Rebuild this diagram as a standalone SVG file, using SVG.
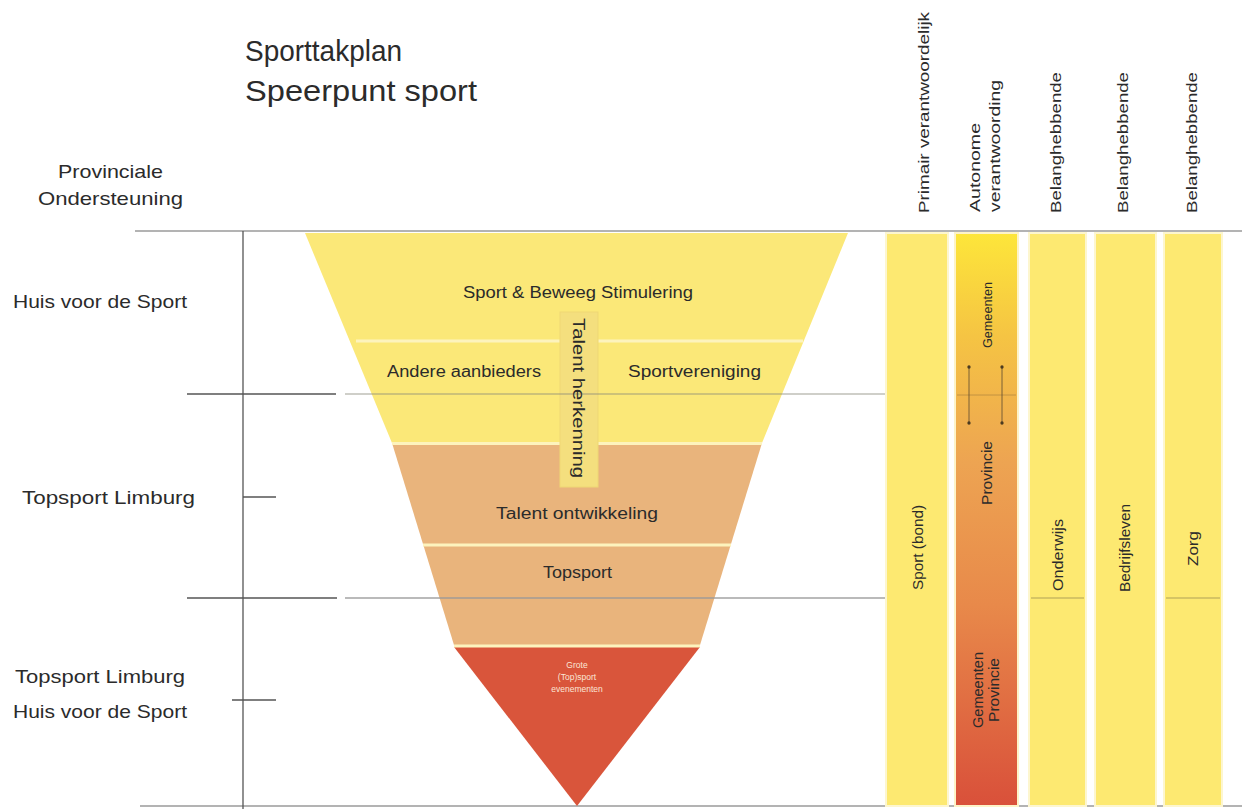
<svg xmlns="http://www.w3.org/2000/svg" width="1242" height="809" viewBox="0 0 1242 809">
<defs>
<style>
text{font-family:"Liberation Sans","Open Sans",sans-serif;fill:#2b2b2b}
.lbl{font-size:18.5px}
.hdr{font-size:14px}
.tri{font-size:16px}
.col{font-size:15px}
.gl{stroke:#9a9a9a;stroke-width:1.5;fill:none}
.dk{stroke:#555;stroke-width:1.3;fill:none}
.sep{stroke:#fdf3bd;stroke-width:3}
.y{fill:#fde971}
</style>
<linearGradient id="auto" x1="0" y1="0" x2="0" y2="1">
<stop offset="0" stop-color="#fde63a"/>
<stop offset="0.18" stop-color="#f5c443"/>
<stop offset="0.4" stop-color="#eda452"/>
<stop offset="0.65" stop-color="#e8894a"/>
<stop offset="1" stop-color="#d9503a"/>
</linearGradient>
<marker id="dot" viewBox="0 0 6 6" refX="3" refY="3" markerWidth="5" markerHeight="5"><circle cx="3" cy="3" r="2.5" fill="#4a3a20"/></marker>
</defs>
<rect width="1242" height="809" fill="#fff"/>

<g id="title">
<text x="245" y="61" style="font-size:29px" textLength="157" lengthAdjust="spacingAndGlyphs">Sporttakplan</text>
<text x="245" y="101" style="font-size:29px" textLength="232" lengthAdjust="spacingAndGlyphs">Speerpunt sport</text>
</g>

<g id="grid">
<line class="gl" x1="135" y1="231" x2="1242" y2="231"/>
<line class="gl" x1="140" y1="806" x2="1242" y2="806"/>
<line class="dk" x1="243" y1="231" x2="243" y2="809"/>
<line class="dk" x1="187" y1="394" x2="336" y2="394"/>
<line class="dk" x1="187" y1="598" x2="337" y2="598"/>
<line class="dk" x1="243" y1="497" x2="276" y2="497"/>
<line class="dk" x1="232" y1="700" x2="276" y2="700"/>
</g>

<g id="left-labels">
<text class="lbl" x="58" y="178" textLength="105" lengthAdjust="spacingAndGlyphs">Provinciale</text>
<text class="lbl" x="38" y="205" textLength="145" lengthAdjust="spacingAndGlyphs">Ondersteuning</text>
<text class="lbl" x="13" y="308" textLength="174" lengthAdjust="spacingAndGlyphs">Huis voor de Sport</text>
<text class="lbl" x="22" y="504" textLength="173" lengthAdjust="spacingAndGlyphs">Topsport Limburg</text>
<text class="lbl" x="15" y="683" textLength="170" lengthAdjust="spacingAndGlyphs">Topsport Limburg</text>
<text class="lbl" x="13" y="718" textLength="174" lengthAdjust="spacingAndGlyphs">Huis voor de Sport</text>
</g>

<g id="pyramid">
<polygon points="305,233 848,233 762,443 392,443" fill="#fbe878"/>
<polygon points="392,443 762,443 700,645 454,645" fill="#e9b47c"/>
<polygon points="454,647 700,647 577,806" fill="#d9553b"/>
<line class="sep" x1="356" y1="341" x2="803" y2="341"/>
<line class="sep" x1="392" y1="443.5" x2="762" y2="443.5"/>
<line class="sep" x1="423" y1="545" x2="731" y2="545"/>
<line class="sep" x1="454" y1="646" x2="700" y2="646"/>
<rect x="560" y="312" width="38" height="175" fill="#f4df7e" stroke="#efd774" stroke-width="1"/>
<line x1="345" y1="394" x2="885" y2="394" stroke="#8a8a7a" stroke-width="1.2" opacity="0.8"/>
<line x1="345" y1="598" x2="885" y2="598" stroke="#9a9a9a" stroke-width="1.5" opacity="0.9"/>
</g>

<g id="pyramid-labels">
<text class="tri" x="463" y="298" textLength="230" lengthAdjust="spacingAndGlyphs">Sport &amp; Beweeg Stimulering</text>
<text class="tri" x="387" y="377" textLength="154" lengthAdjust="spacingAndGlyphs">Andere aanbieders</text>
<text class="tri" x="628" y="377" textLength="133" lengthAdjust="spacingAndGlyphs">Sportvereniging</text>
<text class="tri" transform="translate(573,318) rotate(90)" textLength="160" lengthAdjust="spacingAndGlyphs">Talent herkenning</text>
<text class="tri" x="496" y="519" textLength="162" lengthAdjust="spacingAndGlyphs">Talent ontwikkeling</text>
<text class="tri" x="543" y="578" textLength="69" lengthAdjust="spacingAndGlyphs">Topsport</text>
<text x="577" y="668" text-anchor="middle" style="font-size:8.5px;fill:#fbe6d6">Grote</text>
<text x="577" y="680" text-anchor="middle" style="font-size:8.5px;fill:#fbe6d6">(Top)sport</text>
<text x="577" y="692" text-anchor="middle" style="font-size:8.5px;fill:#fbe6d6">evenementen</text>
</g>

<g id="col-primair">
<rect class="y" x="886" y="233" width="62" height="573" stroke="#fdf6cf" stroke-width="2"/>
<text class="hdr" transform="translate(929,213) rotate(-90)" textLength="201" lengthAdjust="spacingAndGlyphs">Primair verantwoordelijk</text>
<text class="col" transform="translate(923,590) rotate(-90)" textLength="85" lengthAdjust="spacingAndGlyphs">Sport (bond)</text>
</g>

<g id="col-autonome">
<rect x="955" y="233" width="63" height="573" fill="url(#auto)" stroke="#fdf3c8" stroke-width="2"/>
<line x1="957" y1="395" x2="1016" y2="395" stroke="#b88a40" stroke-width="0.8"/>
<text class="hdr" transform="translate(980,212) rotate(-90)" textLength="89" lengthAdjust="spacingAndGlyphs">Autonome</text>
<text class="hdr" transform="translate(1000,212) rotate(-90)" textLength="132" lengthAdjust="spacingAndGlyphs">verantwoording</text>
<text transform="translate(992,348) rotate(-90)" style="font-size:13px" textLength="66" lengthAdjust="spacingAndGlyphs">Gemeenten</text>
<text class="col" transform="translate(992,505) rotate(-90)" textLength="64" lengthAdjust="spacingAndGlyphs">Provincie</text>
<text class="col" transform="translate(983,728) rotate(-90)" textLength="76" lengthAdjust="spacingAndGlyphs">Gemeenten</text>
<text class="col" transform="translate(999,722) rotate(-90)" textLength="64" lengthAdjust="spacingAndGlyphs">Provincie</text>
</g>

<g id="connectors">
<line x1="969" y1="367" x2="969" y2="423" stroke="#5a4a30" stroke-width="0.8" marker-start="url(#dot)" marker-end="url(#dot)"/>
<line x1="1002" y1="367" x2="1002" y2="423" stroke="#5a4a30" stroke-width="0.8" marker-start="url(#dot)" marker-end="url(#dot)"/>
</g>

<g id="col-onderwijs">
<rect class="y" x="1029" y="233" width="57" height="573" stroke="#fdf6cf" stroke-width="2"/>
<line x1="1031" y1="598" x2="1084" y2="598" stroke="#c8b860" stroke-width="1.5"/>
<text class="hdr" transform="translate(1061,213) rotate(-90)" textLength="141" lengthAdjust="spacingAndGlyphs">Belanghebbende</text>
<text class="col" transform="translate(1063,591) rotate(-90)" textLength="72" lengthAdjust="spacingAndGlyphs">Onderwijs</text>
</g>

<g id="col-bedrijfsleven">
<rect class="y" x="1095" y="233" width="61" height="573" stroke="#fdf6cf" stroke-width="2"/>
<text class="hdr" transform="translate(1128,213) rotate(-90)" textLength="141" lengthAdjust="spacingAndGlyphs">Belanghebbende</text>
<text class="col" transform="translate(1130,592) rotate(-90)" textLength="88" lengthAdjust="spacingAndGlyphs">Bedrijfsleven</text>
</g>

<g id="col-zorg">
<rect class="y" x="1164" y="233" width="58" height="573" stroke="#fdf6cf" stroke-width="2"/>
<line x1="1166" y1="598" x2="1220" y2="598" stroke="#c8b860" stroke-width="1.5"/>
<text class="hdr" transform="translate(1197,213) rotate(-90)" textLength="141" lengthAdjust="spacingAndGlyphs">Belanghebbende</text>
<text class="col" transform="translate(1198,566) rotate(-90)" textLength="35" lengthAdjust="spacingAndGlyphs">Zorg</text>
</g>
</svg>
